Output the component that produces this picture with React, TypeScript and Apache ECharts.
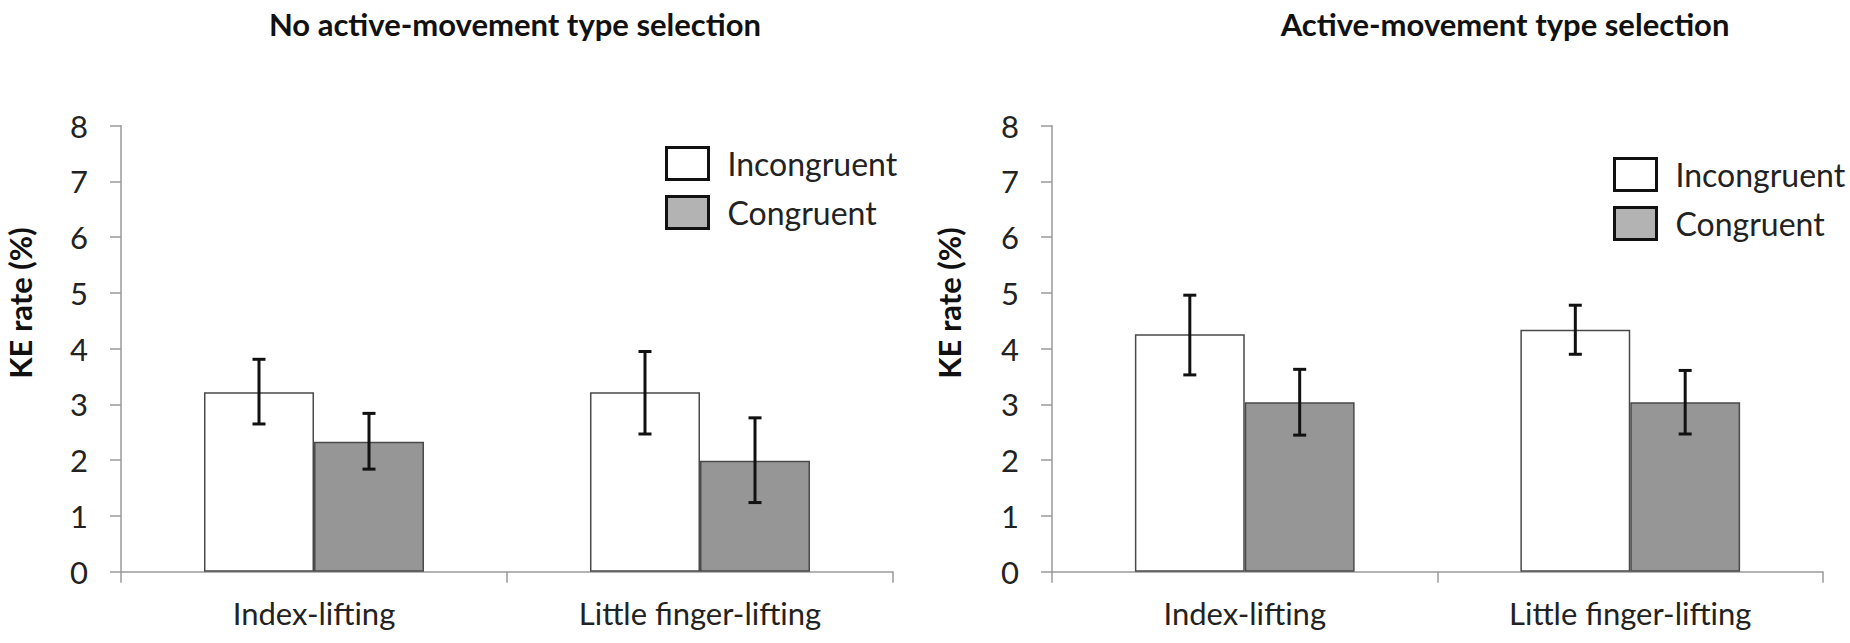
import React, { useEffect, useRef } from "react";
import * as echarts from "echarts";

const categories = ["Index-lifting", "Little finger-lifting"];
const seriesNames = ["Incongruent", "Congruent"];
const yTicks = [0, 8, 1]; // min, max, interval

const panelTitles = ["No active-movement type selection", "Active-movement type selection"];
const yAxisTitle = "KE rate (%)";

// Panel 1: No active-movement type selection
const p1Incongruent = [3.22, 3.22];
const p1IncongruentErr = [
  [2.65, 3.81],
  [2.47, 3.95],
];
const p1Congruent = [2.33, 1.99];
const p1CongruentErr = [
  [1.84, 2.84],
  [1.24, 2.76],
];

// Panel 2: Active-movement type selection
const p2Incongruent = [4.26, 4.34];
const p2IncongruentErr = [
  [3.53, 4.96],
  [3.9, 4.78],
];
const p2Congruent = [3.04, 3.04];
const p2CongruentErr = [
  [2.45, 3.63],
  [2.47, 3.61],
];

const FONT = "Lato";
const GAP = 0.43;

function errSeries(name: string, gridIdx: number, which: number, errs: number[][]) {
  return {
    type: "custom",
    name: name + " error",
    xAxisIndex: gridIdx,
    yAxisIndex: gridIdx,
    z: 10,
    silent: true,
    encode: { x: 0, y: [1, 2] },
    data: errs.map((e, i) => [i, e[0], e[1]]),
    renderItem: (params: any, api: any) => {
      const ci = api.value(0);
      const lo = api.value(1);
      const hi = api.value(2);
      const catW = api.size([1, 0])[0];
      const bw = (catW * (1 - GAP)) / 2;
      const off = which === 0 ? -bw / 2 : bw / 2;
      const pLo = api.coord([ci, lo]);
      const pHi = api.coord([ci, hi]);
      const x = pLo[0] + off;
      const cap = 6.5;
      const st = { stroke: "#111", lineWidth: 3 };
      return {
        type: "group",
        children: [
          { type: "line", shape: { x1: x, y1: pHi[1], x2: x, y2: pLo[1] }, style: st },
          { type: "line", shape: { x1: x - cap, y1: pHi[1], x2: x + cap, y2: pHi[1] }, style: st },
          { type: "line", shape: { x1: x - cap, y1: pLo[1], x2: x + cap, y2: pLo[1] }, style: st },
        ],
      };
    },
  };
}

function barSeries(name: string, gridIdx: number, which: number, values: number[]) {
  return {
    type: "bar",
    name,
    xAxisIndex: gridIdx,
    yAxisIndex: gridIdx,
    barGap: "0%",
    barCategoryGap: GAP * 100 + "%",
    data: values,
    itemStyle:
      which === 0
        ? { color: "#ffffff", borderColor: "#4a4a4a", borderWidth: 1.5 }
        : { color: "#969696", borderColor: "#4a4a4a", borderWidth: 1.5 },
  };
}

function xAxis(gridIndex: number) {
  return {
    type: "category",
    gridIndex,
    data: categories,
    axisLine: { lineStyle: { color: "#9a9a9a", width: 1.5 } },
    axisTick: { show: true, length: 11, alignWithLabel: false, lineStyle: { color: "#9a9a9a", width: 1.5 } },
    axisLabel: { fontFamily: FONT, fontSize: 31, color: "#222", margin: 26 },
  };
}

function yAxis(gridIndex: number) {
  return {
    type: "value",
    gridIndex,
    min: yTicks[0],
    max: yTicks[1],
    interval: yTicks[2],
    splitLine: { show: false },
    axisLine: { show: true, lineStyle: { color: "#9a9a9a", width: 1.5 } },
    axisTick: { show: true, length: 11, lineStyle: { color: "#9a9a9a", width: 1.5 } },
    axisLabel: { fontFamily: FONT, fontSize: 31, color: "#222", margin: 33 },
  };
}

function legend(left: number, top: number) {
  return {
    orient: "vertical",
    left,
    top,
    icon: "rect",
    itemWidth: 42,
    itemHeight: 32,
    itemGap: 14,
    selectedMode: false,
    textStyle: { fontFamily: FONT, fontSize: 32, lineHeight: 32, color: "#222", padding: [0, 0, 0, 14] },
    data: [
      { name: seriesNames[0], itemStyle: { color: "#ffffff", borderColor: "#111", borderWidth: 3 } },
      { name: seriesNames[1], itemStyle: { color: "#b3b3b3", borderColor: "#111", borderWidth: 3 } },
    ],
  };
}

export default function App() {
  const ref = useRef<HTMLDivElement>(null);
  useEffect(() => {
    if (!ref.current) return;
    const chart = echarts.init(ref.current, undefined, { renderer: "svg" });
    const titleStyle = (text: string) => ({
      text,
      fontFamily: FONT,
      fontSize: 31,
      fontWeight: "bold",
      fill: "#111",
      textAlign: "center",
      textVerticalAlign: "middle",
    });
    const option: any = {
      animation: false,
      backgroundColor: "#ffffff",
      textStyle: { fontFamily: FONT },
      grid: [
        { left: 121, right: 957, top: 125.7, bottom: 71.3 },
        { left: 1052, right: 27, top: 125.7, bottom: 71.3 },
      ],
      xAxis: [xAxis(0), xAxis(1)],
      yAxis: [yAxis(0), yAxis(1)],
      legend: [legend(660, 141), legend(1608, 152)],
      series: [
        barSeries(seriesNames[0], 0, 0, p1Incongruent),
        barSeries(seriesNames[1], 0, 1, p1Congruent),
        barSeries(seriesNames[0], 1, 0, p2Incongruent),
        barSeries(seriesNames[1], 1, 1, p2Congruent),
        errSeries(seriesNames[0], 0, 0, p1IncongruentErr),
        errSeries(seriesNames[1], 0, 1, p1CongruentErr),
        errSeries(seriesNames[0], 1, 0, p2IncongruentErr),
        errSeries(seriesNames[1], 1, 1, p2CongruentErr),
      ],
      graphic: [
        { type: "text", x: 515, y: 24, style: titleStyle(panelTitles[0]) },
        { type: "text", x: 1505, y: 24, style: titleStyle(panelTitles[1]) },
        { type: "text", x: 20, y: 303, rotation: Math.PI / 2, style: titleStyle(yAxisTitle) },
        { type: "text", x: 949, y: 303, rotation: Math.PI / 2, style: titleStyle(yAxisTitle) },
      ],
    };
    chart.setOption(option);
    return () => chart.dispose();
  }, []);
  return (
    <div
      ref={ref}
      style={{ position: "absolute", left: 0, top: 0, width: 1850, height: 643, background: "#fff" }}
    />
  );
}
